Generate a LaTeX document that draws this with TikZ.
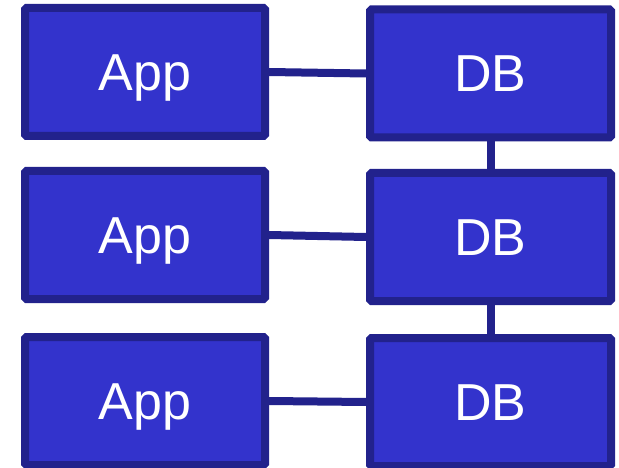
\documentclass[tikz,border=0pt]{standalone}
\usepackage{fontspec}
\setmainfont{Liberation Sans}
\usetikzlibrary{shadows}
\definecolor{boxfill}{RGB}{51,51,204}
\definecolor{boxline}{RGB}{34,34,140}
\tikzset{
  box/.style={draw=boxline, fill=boxfill, line width=8pt, rounded corners=1.5pt,
    minimum width=240pt, minimum height=128pt, inner sep=0pt,
    text=white, font=\fontsize{52}{52}\selectfont, text height=37pt, text depth=-3pt,
    drop shadow={opacity=0.22, shadow xshift=0pt, shadow yshift=-2pt}},
  link/.style={draw=boxline, line width=8pt}
}
\begin{document}
\begin{tikzpicture}[x=1pt, y=-1pt]
\useasboundingbox (0,0) rectangle (619,468);
\node[box] (a1) at (145,72) {App};
\node[box] (a2) at (145,235) {App};
\node[box] (a3) at (145,401) {App};
\node[box, minimum width=241pt] (d1) at (490.5,73.5) {DB};
\node[box, minimum width=241pt] (d2) at (490.5,237) {DB};
\node[box, minimum width=241pt] (d3) at (490.5,402) {DB};
\draw[link] (a1.east) -- (d1.west);
\draw[link] (a2.east) -- (d2.west);
\draw[link] (a3.east) -- (d3.west);
\draw[link] (d1.south) -- (d2.north);
\draw[link] (d2.south) -- (d3.north);
\end{tikzpicture}
\end{document}
